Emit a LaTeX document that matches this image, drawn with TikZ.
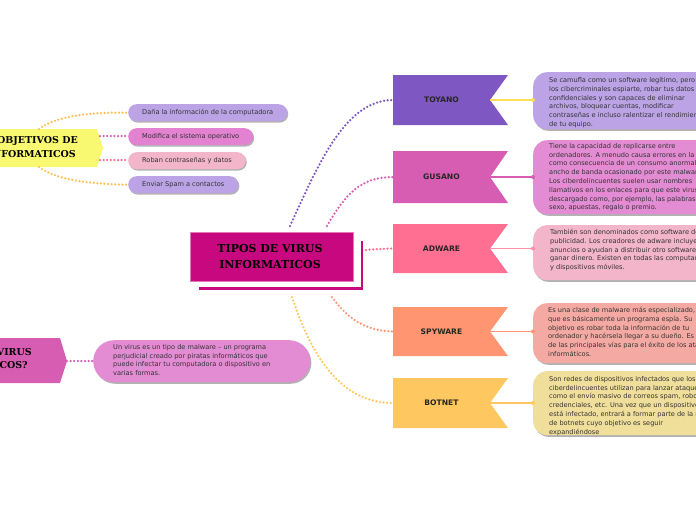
\documentclass[tikz,border=0pt]{standalone}
\usepackage{fontspec}
\usetikzlibrary{shadows}
\newfontfamily\bodyfont{DejaVu Sans}
\newfontfamily\titlefont{DejaVu Serif}
\newfontfamily\labfont{DejaVu Sans}
\definecolor{mainc}{HTML}{C8087E}
\definecolor{mainb}{HTML}{E478B8}
\definecolor{cpurple}{HTML}{7E57C2}
\definecolor{cmagenta}{HTML}{D65DB1}
\definecolor{cpink}{HTML}{FF6F91}
\definecolor{corange}{HTML}{FF9671}
\definecolor{cyellow}{HTML}{FFC75F}
\definecolor{clyellow}{HTML}{F9F871}
\definecolor{dlav}{HTML}{BBA3E6}
\definecolor{dorch}{HTML}{E38BD3}
\definecolor{dpink}{HTML}{F2B5C9}
\definecolor{dsalm}{HTML}{F4AAA2}
\definecolor{dkhak}{HTML}{F0DE9B}
\definecolor{pmag}{HTML}{E282D0}
\definecolor{lnyel}{HTML}{FFDD55}
\definecolor{lnpink}{HTML}{FF8FAB}
\definecolor{txt}{HTML}{333333}
\tikzset{
  dotcon/.style={line width=2.5pt, line cap=round, dash pattern=on 0pt off 3.6pt},
  solcon/.style={line width=1.2pt},
  descbox/.style={rounded corners=14pt, anchor=north west, inner sep=0pt,
     drop shadow={shadow xshift=1.2pt, shadow yshift=-1.6pt, fill=black, opacity=.3}},
  pillbox/.style={rounded corners=8.5pt, anchor=north west, inner xsep=14pt, inner ysep=0pt,
     minimum height=17pt, text=txt, font=\bodyfont\fontsize{6.6}{8}\selectfont,
     text height=5pt, text depth=1.5pt,
     drop shadow={shadow xshift=1pt, shadow yshift=-1.4pt, fill=black, opacity=.3}},
  bodytext/.style={font=\bodyfont\fontsize{6.6}{8.8}\selectfont, text=txt, align=left,
     inner sep=0pt, anchor=north west},
  flaglabel/.style={font=\labfont\bfseries\fontsize{7.6}{9}\selectfont, text=black!85, inner sep=0pt},
  titletext/.style={font=\titlefont\bfseries\fontsize{11}{16}\selectfont, text=black, align=center, inner sep=0pt},
  sidetitle/.style={font=\titlefont\bfseries\fontsize{9.5}{12}\selectfont, text=black, inner sep=0pt, anchor=east},
}
\newcommand\vflag[5]{%
  \fill[#4] (393,#2) -- (508,#2) -- (490,{(#2+#3)/2}) -- (508,#3) -- (393,#3) -- cycle;
  \node[flaglabel] (#1) at (441.5,{(#2+#3)/2}) {#5};
  \coordinate (#1n) at (490,{(#2+#3)/2});
  \coordinate (#1w) at (393,{(#2+#3)/2});
}
\begin{document}
\begin{tikzpicture}[x=1pt,y=-1pt]
\useasboundingbox (0,0) rectangle (696,520);
\clip (0,0) rectangle (696,520);

% ---------- central node ----------
\draw[mainc, line width=2.6pt] (199,288.5) -- (362,288.5) -- (362,241);
\node[fill=mainc, draw=mainb, line width=0.7pt, minimum width=163pt, minimum height=49pt,
      anchor=north west, inner sep=0pt] (main) at (190,232) {};
\node[titletext] (maintext) at (270,256) {TIPOS DE VIRUS\\ INFORMATICOS};

% ---------- flags ----------
\vflag{toy}{75}{125}{cpurple}{TOYANO}
\vflag{gus}{151}{203}{cmagenta}{GUSANO}
\vflag{adw}{224}{273}{cpink}{ADWARE}
\vflag{spy}{307}{356}{corange}{SPYWARE}
\vflag{bot}{378}{428}{cyellow}{BOTNET}

% connector start points near the central node
\coordinate (s1) at (290,226);
\coordinate (s2) at (327,226);
\coordinate (s3) at (366,250);
\coordinate (s4) at (332,297);
\coordinate (s5) at (292,297);

\draw[dotcon, cpurple] (s1) .. controls (318,165) and (345,100) .. (toyw);
\draw[dotcon, cmagenta] (s2) .. controls (345,195) and (360,177) .. (gusw);
\draw[dotcon, cpink] (s3) .. controls (376,249) .. (adww);
\draw[dotcon, corange] (s4) .. controls (347,318) and (365,331) .. (spyw);
\draw[dotcon, cyellow] (s5) .. controls (308,345) and (335,403) .. (botw);

% ---------- description boxes ----------
\node[descbox, fill=dlav, minimum width=190pt, minimum height=57pt] (toyD) at (533,72) {};
\node[descbox, fill=dorch, minimum width=190pt, minimum height=74pt] (gusD) at (533,140) {};
\node[descbox, fill=dpink, minimum width=190pt, minimum height=55pt] (adwD) at (533,225) {};
\node[descbox, fill=dsalm, minimum width=190pt, minimum height=60pt] (spyD) at (533,303) {};
\node[descbox, fill=dkhak, minimum width=190pt, minimum height=64pt] (botD) at (533,371) {};

\node[bodytext] (toyT) at (549,77) {Se camufla como un software legítimo, pero permite a\\los cibercriminales espiarte, robar tus datos\\confidenciales y son capaces de eliminar\\archivos, bloquear cuentas, modificar\\contraseñas e incluso ralentizar el rendimiento\\de tu equipo.};
\node[bodytext] (gusT) at (549,143) {Tiene la capacidad de replicarse entre\\ordenadores. A menudo causa errores en la red\\como consecuencia de un consumo anormal del\\ancho de banda ocasionado por este malware.\\Los ciberdelincuentes suelen usar nombres\\llamativos en los enlaces para que este virus sea\\descargado como, por ejemplo, las palabras\\sexo, apuestas, regalo o premio.};
\node[bodytext] (adwT) at (550,229) {También son denominados como software de\\publicidad. Los creadores de adware incluyen\\anuncios o ayudan a distribuir otro software para\\ganar dinero. Existen en todas las computadoras\\y dispositivos móviles.};
\node[bodytext] (spyT) at (548,307) {Es una clase de malware más especializado,\\que es básicamente un programa espía. Su\\objetivo es robar toda la información de tu\\ordenador y hacérsela llegar a su dueño. Es una\\de las principales vías para el éxito de los ataques\\informáticos.};
\node[bodytext] (botT) at (549,376) {Son redes de dispositivos infectados que los\\ciberdelincuentes utilizan para lanzar ataques,\\como el envío masivo de correos spam, robo de\\credenciales, etc. Una vez que un dispositivo\\está infectado, entrará a formar parte de la red\\de botnets cuyo objetivo es seguir\\expandiéndose};

\draw[solcon, lnyel] (toyn) -- (toyn -| toyD.west); \fill[lnyel] (toyn -| toyD.west) circle (2pt);
\draw[solcon, cmagenta] (gusn) -- (gusn -| gusD.west); \fill[cmagenta] (gusn -| gusD.west) circle (2pt);
\draw[solcon, lnpink] (adwn) -- (adwn -| adwD.west); \fill[lnpink] (adwn -| adwD.west) circle (2pt);
\draw[solcon, corange] (spyn) -- (spyn -| spyD.west); \fill[corange] (spyn -| spyD.west) circle (2pt);
\draw[solcon, cyellow] (botn) -- (botn -| botD.west); \fill[cyellow] (botn -| botD.west) circle (2pt);

% ---------- left top: objetivos ----------
\fill[clyellow] (-10,129) -- (97,129) -- (103,148) -- (97,167) -- (-10,167) -- cycle;
\node[sidetitle] (obj1) at (78,141) {OBJETIVOS DE};
\node[sidetitle] (obj2) at (76,154) {INFORMATICOS};
\coordinate (oTop) at (39,129);
\coordinate (oBot) at (39,167);
\coordinate (oR1) at (100,136);
\coordinate (oR2) at (100,160);

\node[pillbox, fill=dlav] (p1) at (128,104) {Daña la información de la computadora};
\node[pillbox, fill=pmag] (p2) at (128,128) {Modifica el sistema operativo};
\node[pillbox, fill=dpink] (p3) at (128,152) {Roban contraseñas y datos};
\node[pillbox, fill=dlav] (p4) at (128,176) {Enviar Spam a contactos};

\draw[dotcon, cyellow!90!orange] (oTop) .. controls (55,117) and (85,112) .. (p1.west);
\draw[dotcon, cmagenta] (oR1) -- (oR1 -| p2.west);
\draw[dotcon, cpink] (oR2) -- (oR2 -| p3.west);
\draw[dotcon, cyellow!90!orange] (oBot) .. controls (55,179) and (85,184) .. (p4.west);

% ---------- left bottom: que son ----------
\fill[cmagenta] (-10,338) -- (60,338) -- (67,361) -- (60,383) -- (-10,383) -- cycle;
\node[sidetitle] (q1) at (32,352) {¿QUÉ SON LOS VIRUS};
\node[sidetitle] (q2) at (28,364) {INFORMÁTICOS?};
\coordinate (qTip) at (67,361);
\node[descbox, fill=dorch, rounded corners=21pt, minimum width=217pt, minimum height=42pt] (qD) at (93,340) {};
\node[bodytext] (qT) at (113,344) {Un virus es un tipo de malware – un programa\\perjudicial creado por piratas informáticos que\\puede infectar tu computadora o dispositivo en\\varias formas.};
\draw[dotcon, cmagenta] (qTip) -- (qTip -| qD.west);
\end{tikzpicture}
\end{document}
